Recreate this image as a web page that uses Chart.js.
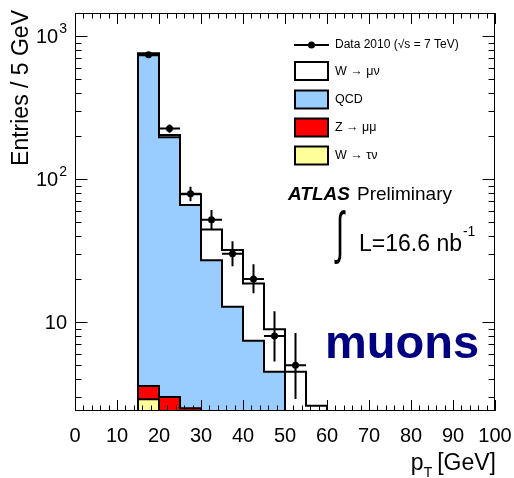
<!DOCTYPE html>
<html>
<head>
<meta charset="utf-8">
<script src="https://cdn.jsdelivr.net/npm/chart.js@4.4.1/dist/chart.umd.min.js"></script>
<style>
  html, body { margin: 0; padding: 0; background: #ffffff; }
  canvas { display: block; }
</style>
</head>
<body>
<canvas id="ptChart" width="514" height="478"></canvas>
<script>
// Muon pT spectrum, 5 GeV bins starting at 15 GeV
const binEdges = [15, 20, 25, 30, 35, 40, 45, 50, 55, 60];

// Observed events per bin (bins 15-20 ... 50-55) with their error-bar ends
const dataCounts  = [740, 226, 79, 52, 30, 20, 8, 5];
const dataErrLow  = [714, 211, 70, 44.5, 24.6, 15.9, 5.3, 2.9];
const dataErrHigh = [767, 241, 88.5, 60.7, 36.8, 25.4, 11.9, 8.4];

// Simulated contributions per bin (bins 15-20 ... 55-60)
const wToMuNu  = [25, 7, 12.7, 17.4, 19.1, 11.2, 4.4, 3.45, 2.5];
const qcdBkg   = [731.4, 193, 63.3, 25.4, 11.7, 6.7, 4.1, 0.8, 0];
const zToMuMu  = [0.68, 1.4, 1.6, 1.2, 0.8, 0.5, 0.3, 0.2, 0.1];
const wToTauNu = [2.89, 1.6, 0.9, 0.5, 0.3, 0.2, 0.1, 0.05, 0];

// Axis ranges and tick labels
const xRange = [0, 100];
const yRange = [2.39, 1450];
const xTickStep = 10;
const xMinorStep = 2;
const yMajorTicks = [10, 100, 1000];
const yTickLabels = [['10', ''], ['10', '2'], ['10', '3']];

const FONT = '"Liberation Sans", Arial, Helvetica, sans-serif';
const COLORS = { wmunu: '#ffffff', qcd: '#99ccff', zmumu: '#ff0000', wtaunu: '#ffff99' };

// Cumulative stack levels (drawn back to front)
const lvlTauNu = wToTauNu.slice();
const lvlZ     = lvlTauNu.map((v, i) => v + zToMuMu[i]);
const lvlQCD   = lvlZ.map((v, i) => v + qcdBkg[i]);
const lvlTotal = lvlQCD.map((v, i) => v + wToMuNu[i]);

const FLOOR = 0.05; // below the axis minimum, clipped away
function histOutline(levels) {
  const pts = [{ x: binEdges[0], y: FLOOR }];
  levels.forEach((v, i) => {
    const y = Math.max(v, FLOOR);
    pts.push({ x: binEdges[i], y });
    pts.push({ x: binEdges[i + 1], y });
  });
  pts.push({ x: binEdges[levels.length], y: FLOOR });
  return pts;
}

function histDataset(label, levels, color, order) {
  return {
    type: 'line', label, data: histOutline(levels), order,
    borderColor: '#000000', borderWidth: 2, backgroundColor: color,
    fill: 'start', pointRadius: 0, tension: 0, clip: 0
  };
}

const dataPoints = dataCounts.map((v, i) => ({ x: (binEdges[i] + binEdges[i + 1]) / 2, y: v }));

// Error bars for the data points
const errorBars = {
  id: 'errorBars',
  afterDatasetsDraw(chart) {
    const { ctx, scales: { x, y } } = chart;
    ctx.save();
    ctx.strokeStyle = '#000'; ctx.lineWidth = 2;
    dataCounts.forEach((v, i) => {
      const xc = x.getPixelForValue((binEdges[i] + binEdges[i + 1]) / 2);
      const yc = y.getPixelForValue(v);
      ctx.beginPath();
      ctx.moveTo(x.getPixelForValue(binEdges[i]), yc);
      ctx.lineTo(x.getPixelForValue(binEdges[i + 1]), yc);
      ctx.moveTo(xc, y.getPixelForValue(dataErrLow[i]));
      ctx.lineTo(xc, y.getPixelForValue(dataErrHigh[i]));
      ctx.stroke();
    });
    ctx.restore();
  }
};

// Frame with inward ticks on all four sides, y labels, titles and legend
const decorations = {
  id: 'decorations',
  afterDatasetsDraw(chart) {
    const { ctx, chartArea: a, scales: { x, y } } = chart;
    ctx.save();
    ctx.strokeStyle = '#000'; ctx.lineWidth = 1;
    ctx.beginPath();
    for (let v = xRange[0]; v <= xRange[1]; v += xMinorStep) {
      const px = Math.round(x.getPixelForValue(v)) + 0.5;
      const len = v % xTickStep === 0 ? 11 : 5.5;
      ctx.moveTo(px, a.bottom); ctx.lineTo(px, a.bottom - len);
      ctx.moveTo(px, a.top); ctx.lineTo(px, a.top + len);
    }
    for (let d = 1; d <= 1000; d *= 10) {
      for (let m = 1; m <= 9; m++) {
        const v = m * d;
        if (v < yRange[0] || v > yRange[1]) continue;
        const py = Math.round(y.getPixelForValue(v)) + 0.5;
        const len = m === 1 ? 12.5 : 6.5;
        ctx.moveTo(a.left, py); ctx.lineTo(a.left + len, py);
        ctx.moveTo(a.right, py); ctx.lineTo(a.right - len, py);
      }
    }
    ctx.stroke();
    ctx.strokeRect(Math.round(a.left) + 0.5, Math.round(a.top) + 0.5,
                   Math.round(a.width) - 1, Math.round(a.height) - 1);

    // y tick labels with superscript exponents
    ctx.fillStyle = '#000';
    ctx.textBaseline = 'middle';
    yMajorTicks.forEach((v, i) => {
      const [base, exp] = yTickLabels[i];
      const py = y.getPixelForValue(v);
      ctx.font = '20px ' + FONT;
      const wb = ctx.measureText(base).width;
      ctx.font = '14px ' + FONT;
      const we = exp ? ctx.measureText(exp).width + 1 : 0;
      const right = a.left - 8;
      ctx.font = '20px ' + FONT;
      ctx.textAlign = 'left';
      ctx.fillText(base, right - we - wb, py + 1);
      if (exp) {
        ctx.font = '14px ' + FONT;
        ctx.fillText(exp, right - we + 1, py - 7);
      }
    });

    // y axis title
    ctx.save();
    ctx.translate(22, 10);
    ctx.rotate(-Math.PI / 2);
    ctx.font = '23px ' + FONT;
    ctx.textAlign = 'right';
    ctx.textBaseline = 'middle';
    ctx.fillText('Entries / 5 GeV', 0, 0);
    ctx.restore();

    // x axis title: p_T [GeV]
    ctx.textBaseline = 'alphabetic';
    ctx.textAlign = 'left';
    ctx.font = '23px ' + FONT;
    const wG = ctx.measureText('[GeV]').width;
    const xG = 496 - wG;
    ctx.fillText('[GeV]', xG, 470);
    ctx.font = '14px ' + FONT;
    const wT = ctx.measureText('T').width;
    const xT = xG - 5 - wT;
    ctx.fillText('T', xT, 477);
    ctx.font = '23px ' + FONT;
    const wp = ctx.measureText('p').width;
    ctx.fillText('p', xT - wp, 470);

    // legend
    ctx.lineWidth = 2;
    ctx.beginPath(); ctx.moveTo(294, 45); ctx.lineTo(329, 45); ctx.stroke();
    ctx.beginPath(); ctx.arc(311.5, 45, 3.5, 0, Math.PI * 2); ctx.fill();
    ctx.font = '12px ' + FONT;
    ctx.textBaseline = 'middle';
    ctx.fillText('Data 2010 (\u221As = 7 TeV)', 335, 45);
    const entries = [
      ['W \u2192 \u03BC\u03BD', COLORS.wmunu, 62],
      ['QCD', COLORS.qcd, 90.5],
      ['Z \u2192 \u03BC\u03BC', COLORS.zmumu, 118.5],
      ['W \u2192 \u03C4\u03BD', COLORS.wtaunu, 146.5]
    ];
    entries.forEach(([label, color, top]) => {
      ctx.fillStyle = color;
      ctx.fillRect(295, top, 33, 18);
      ctx.strokeStyle = '#000';
      ctx.strokeRect(295, top, 33, 18);
      ctx.fillStyle = '#000';
      ctx.font = '12.5px ' + FONT;
      ctx.fillText(label, 335, top + 9.5);
    });

    // ATLAS Preliminary
    ctx.textBaseline = 'alphabetic';
    ctx.font = 'italic bold 19px ' + FONT;
    ctx.fillText('ATLAS', 288, 200);
    ctx.font = '19px ' + FONT;
    ctx.fillText('Preliminary', 357, 200);

    // integrated luminosity
    ctx.save();
    ctx.translate(336, 252);
    ctx.scale(1, 1.9);
    ctx.font = '30px ' + FONT;
    ctx.fillText('\u222B', 0, 0);
    ctx.restore();
    ctx.font = '23px ' + FONT;
    ctx.fillText('L=16.6 nb', 359, 251);
    const wL = ctx.measureText('L=16.6 nb').width;
    ctx.font = '14px ' + FONT;
    ctx.fillText('-1', 359 + wL + 1, 236);

    // channel label
    ctx.fillStyle = '#000080';
    ctx.font = 'bold 47px ' + FONT;
    ctx.fillText('muons', 325, 358);
    ctx.restore();
  }
};

new Chart(document.getElementById('ptChart'), {
  type: 'line',
  data: {
    datasets: [
      {
        type: 'scatter', label: 'Data 2010', data: dataPoints, order: 0,
        pointRadius: 3.5, pointBackgroundColor: '#000', pointBorderColor: '#000',
        pointBorderWidth: 0, showLine: false
      },
      histDataset('W \u2192 \u03C4\u03BD', lvlTauNu, COLORS.wtaunu, 1),
      histDataset('Z \u2192 \u03BC\u03BC', lvlZ, COLORS.zmumu, 2),
      histDataset('QCD', lvlQCD, COLORS.qcd, 3),
      histDataset('W \u2192 \u03BC\u03BD', lvlTotal, COLORS.wmunu, 4)
    ]
  },
  options: {
    responsive: false,
    animation: false,
    devicePixelRatio: 1,
    layout: { padding: { top: 13, right: 19, left: 0, bottom: 0 } },
    plugins: { legend: { display: false }, tooltip: { enabled: false } },
    scales: {
      x: {
        type: 'linear', min: xRange[0], max: xRange[1],
        grid: { display: false }, border: { display: false },
        ticks: {
          stepSize: xTickStep, autoSkip: false, maxRotation: 0, padding: 5,
          color: '#000', font: { size: 20, family: FONT }
        },
        afterFit(scale) { scale.height = 67; scale.paddingLeft = 0; scale.paddingRight = 0; }
      },
      y: {
        type: 'logarithmic', min: yRange[0], max: yRange[1],
        grid: { display: false }, border: { display: false },
        ticks: { display: false },
        afterBuildTicks(scale) { scale.ticks = yMajorTicks.map(v => ({ value: v })); },
        afterFit(scale) { scale.width = 75; scale.paddingTop = 0; scale.paddingBottom = 0; }
      }
    }
  },
  plugins: [errorBars, decorations]
});
</script>
</body>
</html>
